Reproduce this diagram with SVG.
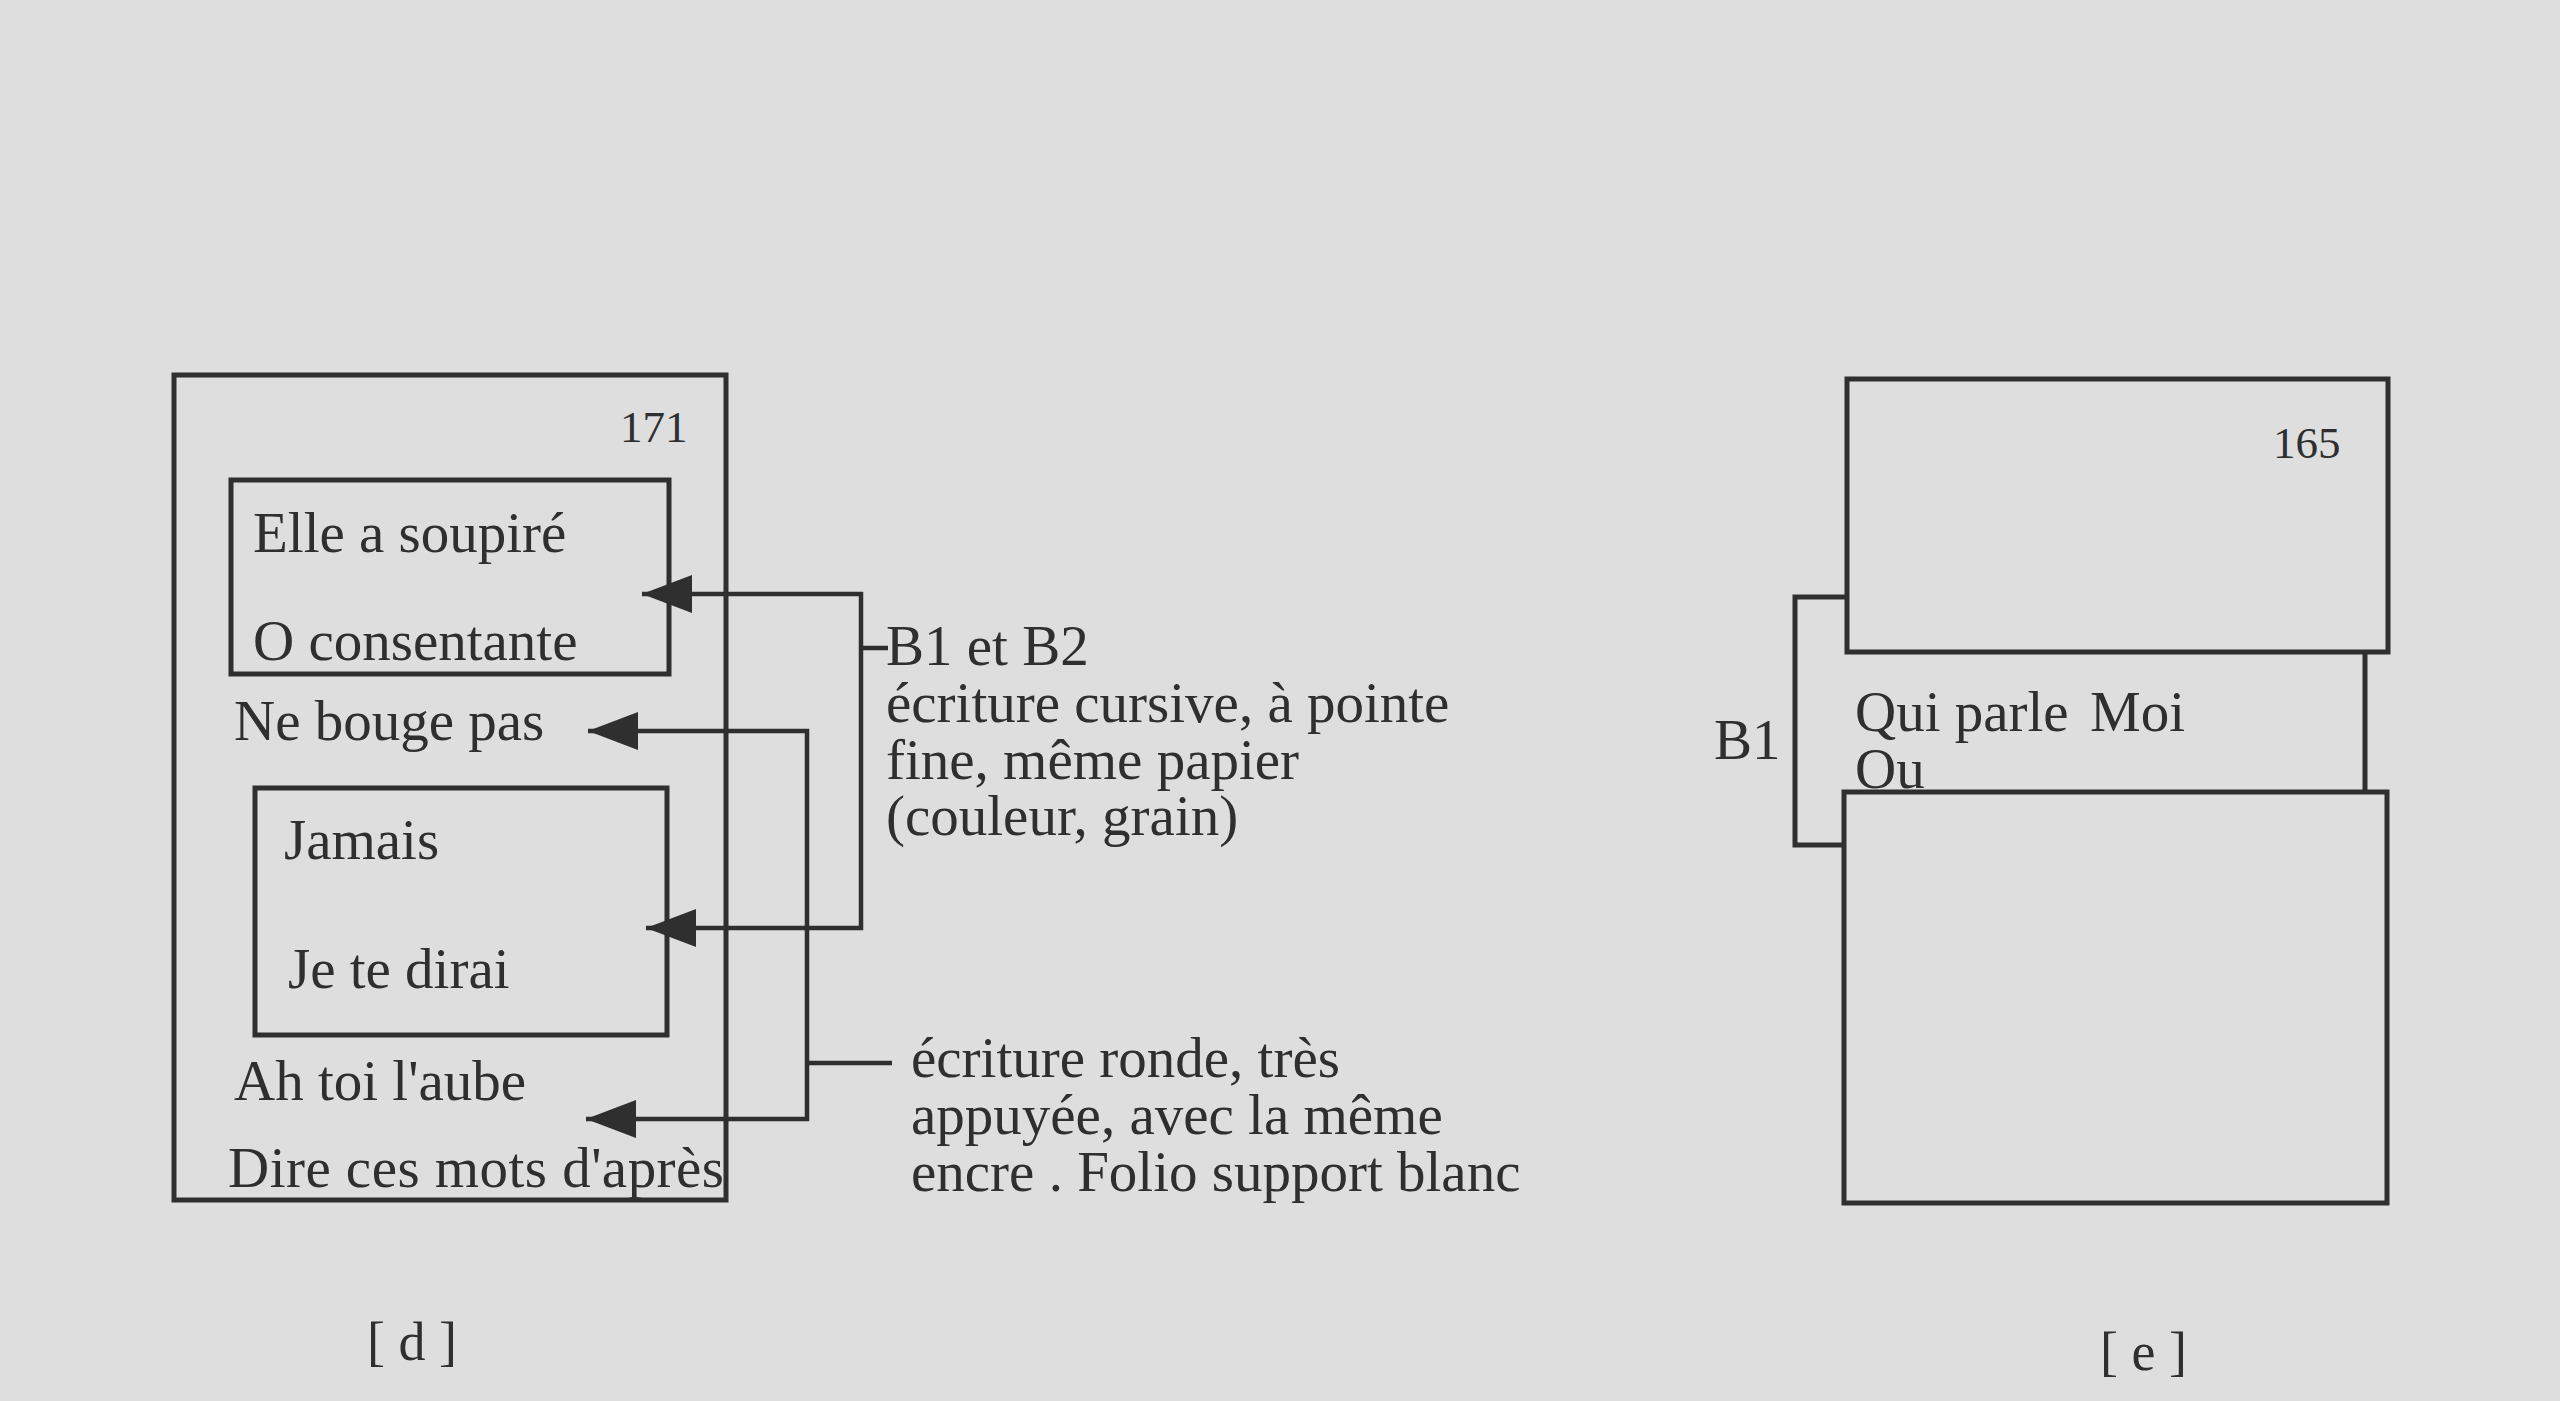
<svg xmlns="http://www.w3.org/2000/svg" width="2560" height="1401" viewBox="0 0 2560 1401">
  <defs>
    <style>
      .bg { fill: #dedede; }
      .box { fill: none; stroke: #2f2f2f; stroke-width: 5; }
      .conn { fill: none; stroke: #2f2f2f; stroke-width: 4.5; }
      .t { font-family: "Liberation Serif", "Times New Roman", serif; font-size: 57px; fill: #2f2f2f; }
      .num { font-family: "Liberation Serif", "Times New Roman", serif; font-size: 45px; fill: #2f2f2f; }
      .cap { font-family: "Liberation Serif", "Times New Roman", serif; font-size: 54px; fill: #2f2f2f; }
    </style>
    <marker id="ah" viewBox="-52 -21 54 42" refX="0" refY="0" markerWidth="54" markerHeight="42" markerUnits="userSpaceOnUse" orient="auto-start-reverse">
      <path d="M0,0 L-50,-19 L-50,19 Z" fill="#2f2f2f"/>
    </marker>
  </defs>
  <rect class="bg" x="0" y="0" width="2560" height="1401"/>

  <!-- Figure d -->
  <g id="page-d">
    <rect class="box" x="174" y="375" width="552" height="825"/>
    <text class="num" x="620" y="442">171</text>
    <text class="t" x="234" y="740">Ne bouge pas</text>
    <text class="t" x="234" y="1100">Ah toi l'aube</text>
    <text class="t" x="228" y="1187" textLength="496" lengthAdjust="spacing">Dire ces mots d'après</text>
  </g>
  <g id="block-b1">
    <rect class="box" x="231" y="480" width="438" height="194"/>
    <text class="t" x="253" y="552">Elle a soupiré</text>
    <text class="t" x="253" y="660">O consentante</text>
  </g>
  <g id="block-b2">
    <rect class="box" x="255" y="788" width="412" height="247"/>
    <text class="t" x="284" y="859">Jamais</text>
    <text class="t" x="288" y="988">Je te dirai</text>
  </g>
  <g id="note-cursive">
    <text class="t" x="886" y="665">B1 et B2</text>
    <text class="t" x="886" y="722">écriture cursive, à pointe</text>
    <text class="t" x="886" y="779">fine, même papier</text>
    <text class="t" x="886" y="835">(couleur, grain)</text>
  </g>
  <g id="note-ronde">
    <text class="t" x="911" y="1077">écriture ronde, très</text>
    <text class="t" x="911" y="1134">appuyée, avec la même</text>
    <text class="t" x="911" y="1191">encre . Folio support blanc</text>
  </g>
  <g id="label-d">
    <text class="cap" x="367" y="1360">[ d ]</text>
  </g>

  <!-- Figure e -->
  <g id="page-e-top">
    <rect class="box" x="1847" y="379" width="541" height="273"/>
    <text class="num" x="2273" y="458">165</text>
  </g>
  <g id="page-e-middle">
    <path class="box" d="M2365,652 V792"/>
    <text class="t" x="1855" y="731">Qui parle<tspan x="2090">Moi</tspan></text>
    <text class="t" x="1855" y="788">Ou</text>
  </g>
  <g id="page-e-bottom">
    <rect class="box" x="1844" y="792" width="543" height="411"/>
  </g>
  <g id="label-b1">
    <text class="t" x="1714" y="759">B1</text>
  </g>
  <g id="label-e">
    <text class="cap" x="2100" y="1370">[ e ]</text>
  </g>

  <!-- Connectors -->
  <g id="connectors">
    <path class="conn" d="M642,594 H861 V928 H646" marker-start="url(#ah)" marker-end="url(#ah)"/>
    <path class="conn" d="M861,648 H888"/>
    <path class="conn" d="M588,731 H807 V1119 H586" marker-start="url(#ah)" marker-end="url(#ah)"/>
    <path class="conn" d="M807,1063 H892"/>
    <path class="box" d="M1847,597 H1795 V845 H1844"/>
  </g>
</svg>
